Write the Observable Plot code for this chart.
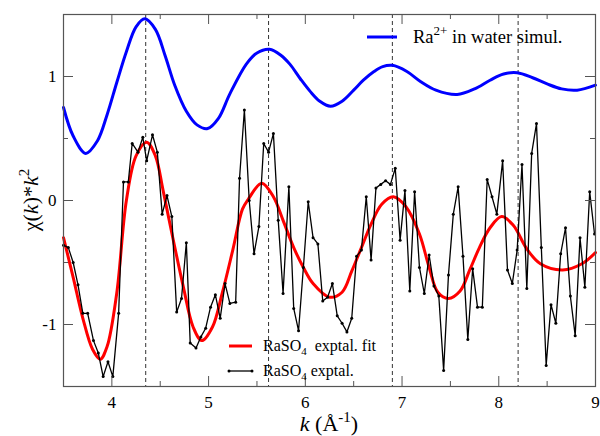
<!DOCTYPE html>
<html><head><meta charset="utf-8">
<script src="https://cdn.jsdelivr.net/npm/d3@7"></script>
<script src="https://cdn.jsdelivr.net/npm/@observablehq/plot@0.6"></script>
<style>body{margin:0;background:#fff}</style>
</head><body><div id="chart"></div>
<script>
// experimental RaSO4 chi(k)*k^2
const expK = [3.50,3.55,3.60,3.65,3.70,3.75,3.81,3.86,3.91,3.96,4.01,4.07,4.12,4.17,4.21,4.27,4.32,4.36,4.42,4.47,
  4.52,4.57,4.62,4.67,4.72,4.77,4.81,4.87,4.92,4.97,5.02,5.07,5.12,5.17,5.22,5.28,5.32,5.37,5.42,5.47,
  5.52,5.57,5.62,5.67,5.72,5.77,5.83,5.88,5.93,5.98,6.03,6.08,6.13,6.18,6.23,6.28,6.33,6.38,6.43,6.48,
  6.53,6.58,6.63,6.68,6.73,6.78,6.83,6.88,6.93,6.98,7.03,7.08,7.13,7.18,7.23,7.28,7.33,7.38,7.43,7.48,
  7.53,7.58,7.63,7.68,7.73,7.78,7.83,7.88,7.93,7.98,8.04,8.09,8.14,8.19,8.24,8.29,8.34,8.39,8.44,8.49,
  8.54,8.59,8.64,8.69,8.74,8.79,8.84,8.89,8.94,8.99];
const expY = [-0.36,-0.38,-0.50,-0.68,-0.91,-0.91,-1.13,-1.23,-1.42,-1.30,-1.42,-0.91,0.15,0.15,0.46,0.39,0.51,0.32,0.53,0.39,
  -0.11,0.04,-0.13,-0.90,-0.79,-0.34,-1.15,-1.19,-1.10,-1.03,-0.86,-0.76,-0.95,-0.67,-0.83,-0.82,0.18,0.73,0.00,-0.43,
  -0.21,0.46,0.39,0.54,-0.16,-0.75,0.11,-0.87,-1.05,-0.54,-0.01,-0.30,-0.35,-0.81,-0.78,-0.67,-0.93,-0.99,-1.06,-0.95,
  -0.45,-0.40,0.03,-0.48,0.10,0.13,0.16,0.13,0.26,-0.32,0.08,-0.73,0.07,-0.54,-0.75,-0.44,-0.69,-0.77,-1.37,-0.60,
  -0.11,0.11,-0.45,-1.12,-0.55,-0.86,-0.86,0.17,0.03,-0.11,0.32,-0.56,-0.67,-0.40,0.29,-0.71,0.38,0.62,-0.38,-1.33,
  -0.84,-0.99,-0.43,-0.22,-0.77,-1.09,-0.30,-0.70,0.07,-0.27];
// experimental fit
const fitK = [3.50,3.60,3.70,3.80,3.88,3.95,4.05,4.15,4.25,4.36,4.45,4.53,4.63,4.74,4.84,4.93,5.04,5.14,5.25,5.35,
  5.41,5.55,5.67,5.77,5.88,5.98,6.08,6.25,6.38,6.48,6.58,6.68,6.79,6.91,7.04,7.18,7.28,7.37,7.48,7.60,
  7.70,7.80,7.91,8.03,8.15,8.29,8.43,8.66,8.86,9.00];
const fitY = [-0.30,-0.62,-0.95,-1.20,-1.28,-1.18,-0.75,0.00,0.36,0.47,0.36,0.08,-0.30,-0.70,-1.02,-1.13,-1.02,-0.75,-0.40,-0.07,
  0.01,0.14,0.03,-0.16,-0.38,-0.54,-0.67,-0.78,-0.74,-0.57,-0.38,-0.19,-0.03,0.03,-0.05,-0.27,-0.54,-0.74,-0.79,-0.73,
  -0.56,-0.38,-0.22,-0.13,-0.20,-0.39,-0.51,-0.56,-0.51,-0.42];
// Ra2+ in water simulation
const simK = [3.50,3.60,3.73,3.85,3.95,4.05,4.15,4.25,4.34,4.45,4.55,4.65,4.77,4.88,4.99,5.10,5.22,5.39,5.50,5.63,
  5.75,5.84,5.95,6.05,6.15,6.26,6.38,6.50,6.60,6.71,6.80,6.90,7.05,7.19,7.35,7.57,7.75,7.91,8.05,8.19,
  8.35,8.50,8.65,8.81,9.00];
const simY = [0.75,0.52,0.38,0.48,0.69,0.95,1.20,1.40,1.465,1.38,1.17,0.93,0.72,0.61,0.58,0.66,0.86,1.10,1.19,1.22,
  1.17,1.10,0.98,0.88,0.80,0.76,0.80,0.89,0.97,1.04,1.08,1.09,1.04,0.96,0.89,0.855,0.90,0.97,1.02,1.03,
  0.99,0.94,0.90,0.89,0.93];
const peakK = [4.35, 5.62, 6.90, 8.20];
const xTicks = [4,5,6,7,8,9];
const xMinor = [3.5,4.5,5.5,6.5,7.5,8.5];
const yTicks = [-1,0,1];
const yMinor = [-0.5,0.5];

const exp = expK.map((k,i)=>({k, v: expY[i]}));
const fit = fitK.map((k,i)=>({k, v: fitY[i]}));
const sim = simK.map((k,i)=>({k, v: simY[i]}));

const W = 600, H = 436, mt = 14, mr = 5, mb = 50, ml = 63;
const ih = H - mt - mb, iw = W - ml - mr;
const fc = "#555";
const ff = "Liberation Serif, Times New Roman, serif";

const plot = Plot.plot({
  width: W, height: H,
  marginTop: mt, marginRight: mr, marginBottom: mb, marginLeft: ml,
  style: {fontFamily: ff, fontSize: "16px", background: "#fff", color: "#000"},
  x: {domain: [3.5, 9]},
  y: {domain: [-1.5, 1.5]},
  marks: [
    Plot.ruleX(peakK, {x: d=>d, stroke: "#333", strokeWidth: 1, strokeDasharray: "4,3"}),
    Plot.line(sim, {x: "k", y: "v", stroke: "#0000ff", strokeWidth: 3, curve: "catmull-rom"}),
    Plot.line(fit, {x: "k", y: "v", stroke: "#ff0000", strokeWidth: 3, curve: "catmull-rom"}),
    Plot.line(exp, {x: "k", y: "v", stroke: "#000", strokeWidth: 1.3}),
    Plot.dot(exp, {x: "k", y: "v", r: 1.5, fill: "#000", stroke: null}),
    Plot.frame({stroke: fc, strokeWidth: 1.2}),
    Plot.tickX(xTicks, {x: d=>d, insetTop: ih - 10, stroke: fc}),
    Plot.tickX(xTicks, {x: d=>d, insetBottom: ih - 10, stroke: fc}),
    Plot.tickX(xMinor, {x: d=>d, insetTop: ih - 5, stroke: fc}),
    Plot.tickX(xMinor, {x: d=>d, insetBottom: ih - 5, stroke: fc}),
    Plot.tickY(yTicks, {y: d=>d, insetLeft: iw - 10, stroke: fc}),
    Plot.tickY(yTicks, {y: d=>d, insetRight: iw - 10, stroke: fc}),
    Plot.tickY(yMinor, {y: d=>d, insetLeft: iw - 5, stroke: fc}),
    Plot.tickY(yMinor, {y: d=>d, insetRight: iw - 5, stroke: fc}),
    Plot.axisX(xTicks, {tickSize: 0, tickPadding: 9, fontSize: 17, label: null}),
    Plot.axisY(yTicks, {tickSize: 0, tickPadding: 7, fontSize: 17, label: null,
      tickFormat: d => d < 0 ? "-" + Math.abs(d) : String(d)})
  ]
});
document.getElementById("chart").appendChild(plot);

const svg = d3.select(plot).attr("font-family", ff);
// axis titles
const yl = svg.append("text").attr("transform", "translate(38,200) rotate(-90)")
  .attr("text-anchor", "middle").attr("font-family", ff).attr("font-size", 22).attr("fill", "#000");
yl.append("tspan").text("χ(");
yl.append("tspan").attr("font-style", "italic").text("k");
yl.append("tspan").text(")*");
yl.append("tspan").attr("font-style", "italic").text("k");
yl.append("tspan").attr("font-size", 15).attr("dy", -9).text("2");

const xl = svg.append("text").attr("x", 329).attr("y", 431)
  .attr("text-anchor", "middle").attr("font-family", ff).attr("font-size", 22).attr("fill", "#000");
xl.append("tspan").attr("font-style", "italic").text("k");
xl.append("tspan").text(" (Å");
xl.append("tspan").attr("font-size", 15).attr("dy", -9).text("-1");
xl.append("tspan").attr("dy", 9).text(")");

// legends
const lg = svg.append("g").attr("font-family", ff).attr("fill", "#000").attr("text-anchor", "start");
lg.append("line").attr("x1", 367).attr("x2", 397).attr("y1", 37).attr("y2", 37)
  .attr("stroke", "#0000ff").attr("stroke-width", 3);
const t1 = lg.append("text").attr("x", 413).attr("y", 43).attr("font-size", 18.5).attr("text-anchor", "start");
t1.append("tspan").text("Ra");
t1.append("tspan").attr("font-size", 13).attr("dy", -8).text("2+");
t1.append("tspan").attr("dy", 8).text(" in water simul.");

lg.append("line").attr("x1", 229).attr("x2", 252).attr("y1", 346).attr("y2", 346)
  .attr("stroke", "#ff0000").attr("stroke-width", 3);
const t2 = lg.append("text").attr("x", 263).attr("y", 351).attr("font-size", 16).attr("text-anchor", "start");
t2.append("tspan").text("RaSO");
t2.append("tspan").attr("font-size", 11).attr("dy", 4).text("4");
t2.append("tspan").attr("dy", -4).text("  exptal. fit");

lg.append("line").attr("x1", 229).attr("x2", 252).attr("y1", 371).attr("y2", 371)
  .attr("stroke", "#000").attr("stroke-width", 1.3);
lg.append("circle").attr("cx", 229).attr("cy", 371).attr("r", 1.5);
lg.append("circle").attr("cx", 252).attr("cy", 371).attr("r", 1.5);
const t3 = lg.append("text").attr("x", 263).attr("y", 376).attr("font-size", 16).attr("text-anchor", "start");
t3.append("tspan").text("RaSO");
t3.append("tspan").attr("font-size", 11).attr("dy", 4).text("4");
t3.append("tspan").attr("dy", -4).text(" exptal.");
</script>
</body></html>
